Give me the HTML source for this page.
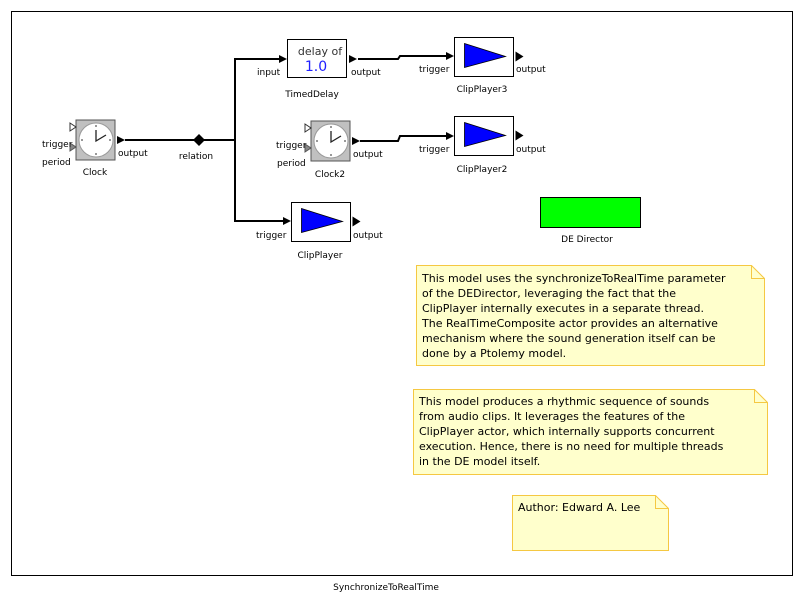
<!DOCTYPE html>
<html><head><meta charset="utf-8"><style>
html,body{margin:0;padding:0;background:#fff;}
svg{display:block;font-family:"DejaVu Sans","Liberation Sans",sans-serif;}
</style></head><body>
<svg width="803" height="603" viewBox="0 0 803 603" xmlns="http://www.w3.org/2000/svg">
<defs>
<g id="clk">
<rect x="0" y="0" width="39" height="40" fill="#c0c0c0" stroke="#555" stroke-width="1"/>
<circle cx="20" cy="20" r="17" fill="#fff" stroke="#999"/>
<g stroke="#333" stroke-width="1"><line x1="20" y1="5" x2="20" y2="7"/><line x1="20" y1="33" x2="20" y2="35"/><line x1="5" y1="20" x2="7" y2="20"/><line x1="33" y1="20" x2="35" y2="20"/></g>
<polyline points="20,10 20,21 30,15" fill="none" stroke="#222" stroke-width="1.3"/>
<polygon points="-6,3 0,7 -6,11" fill="#fff" stroke="#333"/>
<polygon points="-6,23 0,27 -6,31" fill="#888" stroke="#555"/>
<polygon points="41,16 49,20 41,24" fill="#000"/>
</g>
<g id="clip">
<rect x="0" y="0" width="59" height="39" fill="#fff" stroke="#000"/>
<polygon points="10,6 51,19 10,30" fill="#0000ff" stroke="#000" stroke-width="0.8"/>
<polygon points="61,14 69,19 61,24" fill="#000"/>
</g>
</defs>
<rect x="11.5" y="11.5" width="781" height="564" fill="#fff" stroke="#000"/>
<text x="386" y="590" font-size="9" text-anchor="middle">SynchronizeToRealTime</text>

<!-- wires -->
<g fill="none" stroke="#000" stroke-width="2">
<line x1="125" y1="140" x2="235" y2="140"/>
<polyline points="279,59 235,59 235,221 283,221"/>
<polyline points="358,59 398,59 400,56 446,56"/>
<polyline points="360,141 398,141 400,136 446,136"/>
</g>
<polygon points="193,140 199,134 205,140 199,146" fill="#000"/>
<text x="196" y="159" font-size="9" text-anchor="middle">relation</text>

<!-- Clock -->
<g transform="translate(76,120)"><use href="#clk"/></g>
<text x="42" y="147" font-size="9">trigger</text>
<text x="42" y="165" font-size="9">period</text>
<text x="118" y="156" font-size="9">output</text>
<text x="95" y="175" font-size="9" text-anchor="middle">Clock</text>

<!-- Clock2 -->
<g transform="translate(311,121)"><use href="#clk"/></g>
<text x="276" y="148" font-size="9">trigger</text>
<text x="277" y="166" font-size="9">period</text>
<text x="353" y="157" font-size="9">output</text>
<text x="330" y="177" font-size="9" text-anchor="middle">Clock2</text>

<!-- TimedDelay -->
<rect x="287.5" y="39.5" width="59" height="38" fill="#fff" stroke="#000"/>
<text x="320" y="55" font-size="11" text-anchor="middle" fill="#333">delay of</text>
<text x="316" y="71" font-size="14" text-anchor="middle" fill="#2020ff">1.0</text>
<polygon points="279,55 287,59 279,63" fill="#000"/>
<polygon points="349,55 357,59 349,63" fill="#000"/>
<text x="257" y="75" font-size="9">input</text>
<text x="351" y="75" font-size="9">output</text>
<text x="312" y="97" font-size="9" text-anchor="middle">TimedDelay</text>

<!-- ClipPlayer3 -->
<g transform="translate(454.5,37.5)"><use href="#clip"/></g>
<polygon points="446,52 454,56 446,60" fill="#000"/>
<text x="419" y="72" font-size="9">trigger</text>
<text x="516" y="72" font-size="9">output</text>
<text x="482" y="92" font-size="9" text-anchor="middle">ClipPlayer3</text>

<!-- ClipPlayer2 -->
<g transform="translate(454.5,116.5)"><use href="#clip"/></g>
<polygon points="446,132 454,136 446,140" fill="#000"/>
<text x="419" y="152" font-size="9">trigger</text>
<text x="516" y="152" font-size="9">output</text>
<text x="482" y="172" font-size="9" text-anchor="middle">ClipPlayer2</text>

<!-- ClipPlayer -->
<g transform="translate(291.5,202.5)"><use href="#clip"/></g>
<polygon points="283,217 291,221 283,225" fill="#000"/>
<text x="256" y="238" font-size="9">trigger</text>
<text x="353" y="238" font-size="9">output</text>
<text x="320" y="258" font-size="9" text-anchor="middle">ClipPlayer</text>

<!-- DE Director -->
<rect x="540.5" y="197.5" width="100" height="30" fill="#00ff00" stroke="#000"/>
<text x="587" y="242" font-size="9" text-anchor="middle">DE Director</text>

<!-- Notes -->
<g fill="#ffffcc" stroke="#f5c842">
<path d="M416.5,265.5 H751.5 L764.5,278.5 V365.5 H416.5 Z"/>
<path d="M751.5,265.5 V278.5 H764.5" fill="none"/>
<path d="M413.5,389.5 H754.5 L767.5,402.5 V474.5 H413.5 Z"/>
<path d="M754.5,389.5 V402.5 H767.5" fill="none"/>
<path d="M512.5,495.5 H655.5 L668.5,508.5 V550.5 H512.5 Z"/>
<path d="M655.5,495.5 V508.5 H668.5" fill="none"/>
</g>
<g font-size="11" fill="#000">
<text x="422" y="282">This model uses the synchronizeToRealTime parameter</text>
<text x="422" y="297">of the DEDirector, leveraging the fact that the</text>
<text x="422" y="312">ClipPlayer internally executes in a separate thread.</text>
<text x="422" y="327">The RealTimeComposite actor provides an alternative</text>
<text x="422" y="342">mechanism where the sound generation itself can be</text>
<text x="422" y="357">done by a Ptolemy model.</text>
<text x="419" y="405">This model produces a rhythmic sequence of sounds</text>
<text x="419" y="420">from audio clips. It leverages the features of the</text>
<text x="419" y="435">ClipPlayer actor, which internally supports concurrent</text>
<text x="419" y="450">execution. Hence, there is no need for multiple threads</text>
<text x="419" y="465">in the DE model itself.</text>
<text x="518" y="511">Author: Edward A. Lee</text>
</g>
</svg>
</body></html>
